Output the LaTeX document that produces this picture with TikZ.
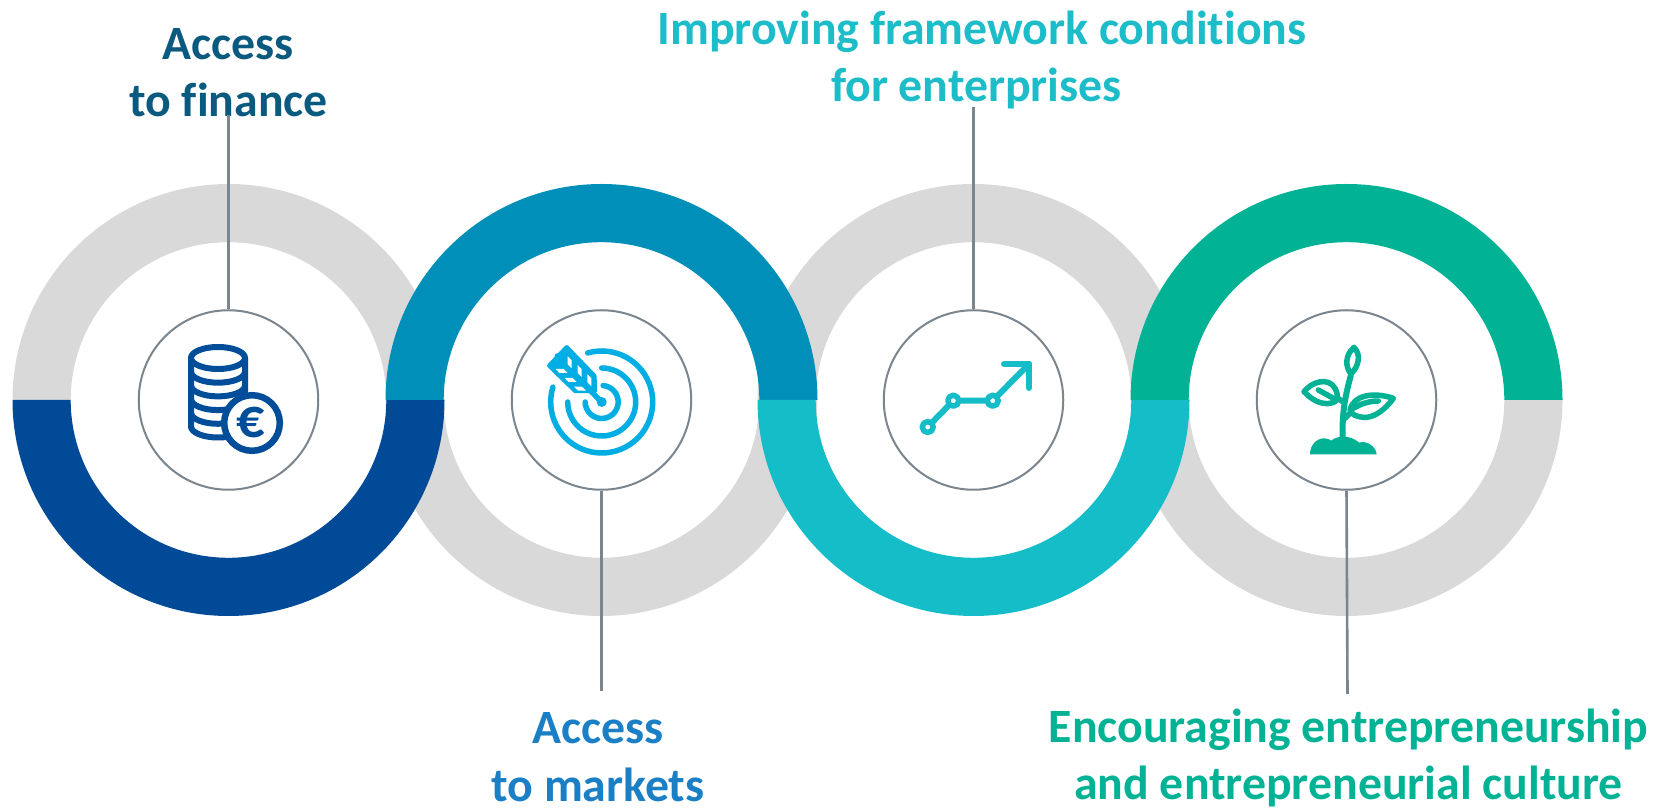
\documentclass[tikz,border=0pt]{standalone}
\usepackage{fontspec}
\setmainfont[Ligatures=NoCommon]{Carlito}
\definecolor{ringgray}{HTML}{D9D9D9}
\definecolor{ringa}{HTML}{004A97}
\definecolor{ringb}{HTML}{008FB8}
\definecolor{ringc}{HTML}{14BDC7}
\definecolor{ringd}{HTML}{02B294}
\definecolor{txta}{HTML}{0A5A80}
\definecolor{txtb}{HTML}{1A7FC4}
\definecolor{txtc}{HTML}{1CBCC8}
\definecolor{icona}{HTML}{004E9A}
\definecolor{iconb}{HTML}{00AEE3}
\definecolor{linegray}{HTML}{7A858E}
\tikzset{
  hubcircle/.style={circle,draw=linegray,line width=2pt,fill=white,minimum size=179.5pt,inner sep=0pt},
  connector/.style={draw=linegray,line width=2.6pt},
  caption/.style={font=\fontsize{47.8}{57.5}\selectfont\bfseries,align=center,inner sep=0pt},
  iconline/.style={line width=5.5pt,line cap=round,line join=round}
}
\newcommand{\halfring}[4]{% centre x, start angle, end angle, colour
  \fill[#4] (#1,408) ++(#2:216pt) arc[start angle=#2,end angle=#3,radius=216pt]
    -- ++(#3+180:58.2pt) arc[start angle=#3,end angle=#2,radius=157.8pt] -- cycle;}
\begin{document}
\begin{tikzpicture}[x=1pt,y=1pt]
\useasboundingbox (0,0) rectangle (1664,808);
% grey halves first
\halfring{228.5}{0}{180}{ringgray}
\halfring{601.5}{180}{360}{ringgray}
\halfring{973.5}{0}{180}{ringgray}
\halfring{1346.5}{180}{360}{ringgray}
% coloured halves
\halfring{228.5}{180}{360}{ringa}
\halfring{601.5}{0}{180}{ringb}
\halfring{973.5}{180}{360}{ringc}
\halfring{1346.5}{0}{180}{ringd}
% hubs
\node[hubcircle] (hubA) at (228.5,408) {};
\node[hubcircle] (hubB) at (601.5,408) {};
\node[hubcircle] (hubC) at (973.5,408) {};
\node[hubcircle] (hubD) at (1346.5,408) {};
% captions
\node[caption,text=txta] (capA) at (228.5,735.4) {Access\\to finance};
\node[caption,text=txtb] (capB) at (598,50.7) {Access\\to markets};
\node[caption,text=txtc] (capC) at (982,747.8) {Improving framework conditions\\for enterprises\rule{11pt}{0pt}};
\node[caption,text=ringd] (capD) at (1348.5,50) {Encouraging entrepreneurship\\and entrepreneurial culture};
% connectors
\coordinate (endA) at (228.5,693);
\coordinate (endB) at (601.5,117);
\coordinate (endC) at (973.5,701);
\coordinate (endD) at (1347.5,114);
\draw[connector] (hubA.north) -- (endA);
\draw[connector] (hubB.south) -- (endB);
\draw[connector] (hubC.north) -- (endC);
\draw[connector] (hubD.south) -- (endD);
% icon A: coins
\begin{scope}[icona,line width=6pt]
  \draw (191,450) -- (191,450-68.5) arc[start angle=180,end angle=360,x radius=27pt,y radius=11pt] -- (245,450);
  \foreach \k in {1,2,3,4}
    \draw (191,450-13.7*\k) arc[start angle=180,end angle=360,x radius=27pt,y radius=11pt];
  \draw[fill=white] (218,450) ellipse[x radius=27pt,y radius=11pt];
  \draw[fill=white,line width=6.5pt] (252,385) circle[radius=27.8pt];
  \node[font=\fontsize{56}{56}\selectfont\bfseries,text=icona,inner sep=0pt] (euro) at (250.5,385) {€};
\end{scope}
% icon B: target
\begin{scope}[iconb,iconline]
  \coordinate (tc) at (601.7,406);
  \draw (tc) ++(106:51pt) arc[start angle=106,end angle=-197,radius=51pt];
  \draw (tc) ++(90:34pt) arc[start angle=90,end angle=-180,radius=34pt];
  \draw (tc) ++(85:16.5pt) arc[start angle=85,end angle=-180,radius=16.5pt];
  \fill (tc) circle[radius=5pt];
\end{scope}
\begin{scope}[shift={(500,508)},x=0.33333pt,y=-0.33333pt]
  \draw[iconb,iconline,fill=iconb,line width=4.5pt] (200,142) -- (283,228) -- (285,272) -- (226,273) -- (148,197) -- cycle;
  \draw[iconb,iconline] (172,168) -- (305,307);
  \foreach \ux/\uy in {209/187,239/213,268/241}
    \fill[white] (\ux-6,\uy-18) -- (\ux+6,\uy-6) -- (\ux+6,\uy+18) -- (\ux-6,\uy+6) -- cycle;
  \foreach \lx/\ly in {185/213,212/240,240/266}
    \fill[white] (\lx-18,\ly-6) -- (\lx+6,\ly-6) -- (\lx+18,\ly+6) -- (\lx-6,\ly+6) -- cycle;
\end{scope}
% icon C: growth line
\begin{scope}[ringc,iconline]
  \coordinate (pa) at (927.7,381);
  \coordinate (pb) at (953.3,407.3);
  \coordinate (pc) at (992.7,407.3);
  \coordinate (pd) at (1029,444);
  \draw[line width=6pt] (pa) -- (pb) -- (pc) -- (pd);
  \draw[line width=6pt] (1004,444) -- (pd) -- (1029,420);
  \draw[fill=white] (pa) circle[radius=5.5pt];
  \draw[fill=white] (pb) circle[radius=5.5pt];
  \draw[fill=white] (pc) circle[radius=5.5pt];
\end{scope}
% icon D: seedling
\begin{scope}[shift={(1270,488)},x=0.33333pt,y=-0.33333pt,ringd,line width=5.5pt,line cap=round,line join=round]
  \draw (252,82) .. controls (225,105) and (225,140) .. (243,162) .. controls (265,140) and (275,105) .. (252,82) -- cycle;
  \draw[line width=6pt] (242,168) .. controls (225,230) and (216,280) .. (218,350);
  \draw (102,215) .. controls (125,185) and (175,170) .. (195,205) .. controls (205,225) and (205,240) .. (195,245) .. controls (165,260) and (130,245) .. (102,215) -- cycle;
  \draw (145,210) -- (190,235);
  \draw (218,245) -- (200,232);
  \draw (240,270) .. controls (250,225) and (310,215) .. (370,235) .. controls (345,270) and (310,295) .. (280,292) .. controls (260,290) and (245,285) .. (240,270) -- cycle;
  \draw (250,265) .. controls (275,250) and (300,243) .. (325,243);
  \draw (225,295) -- (240,280);
  \fill (120,403) .. controls (120,375) and (140,355) .. (162,355) .. controls (172,355) and (178,358) .. (184,362)
     .. controls (195,350) and (235,340) .. (268,368) .. controls (290,360) and (318,380) .. (320,403) -- cycle;
\end{scope}
\end{tikzpicture}
\end{document}
